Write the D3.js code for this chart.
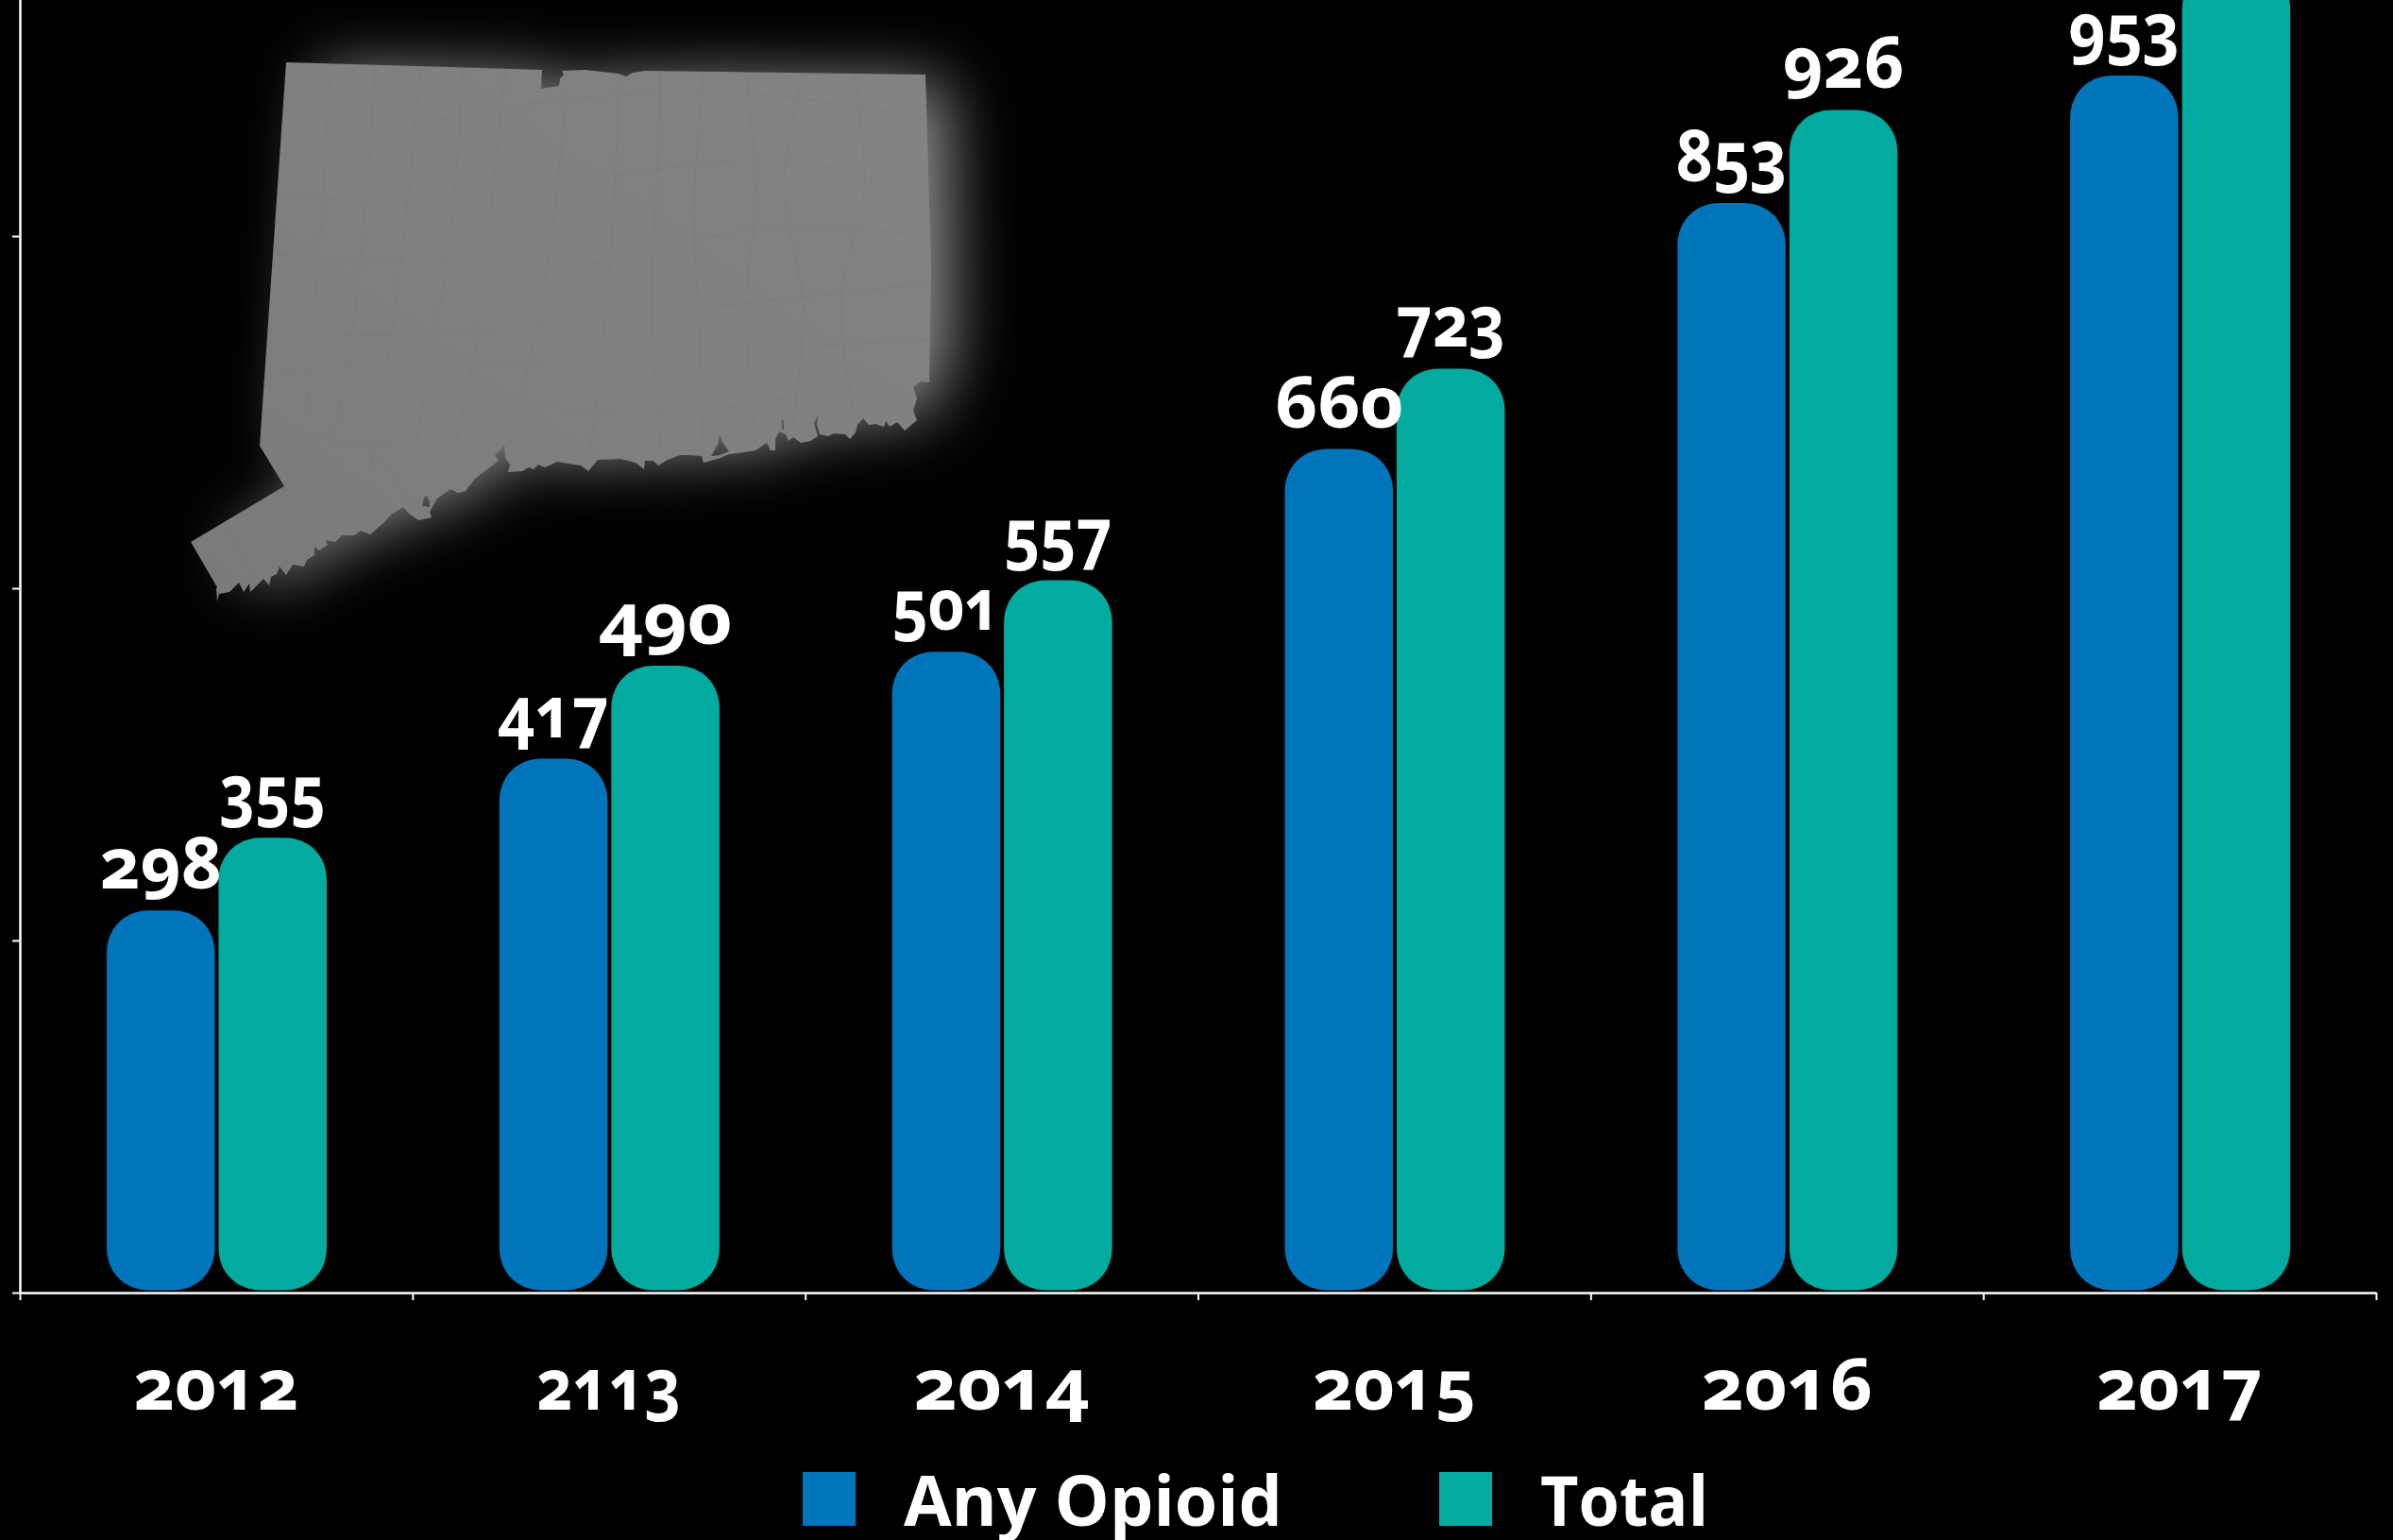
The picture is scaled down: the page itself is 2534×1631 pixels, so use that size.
<!DOCTYPE html>
<html><head><meta charset="utf-8">
<script src="https://cdn.jsdelivr.net/npm/d3@7"></script>
<style>
html,body{margin:0;padding:0;background:#000;overflow:hidden}
svg{display:block}
text{font-family:"Open Sans",sans-serif;font-weight:700;fill:#fff;font-feature-settings:"onum" 1;font-variant-numeric:oldstyle-nums}
</style></head><body>
<svg id="c" width="2534" height="1631"></svg>
<script>
const years = ["2012","2113","2014","2015","2016","2017"];
const seriesNames = ["Any Opioid","Total"];
const anyOpioid = [298,417,501,660,853,953];
const total = [355,490,557,723,926,1038];
const axisTicks = [0,275,550,825];
const seriesColors = ["#0075bb","#02aaa0"];
// label widths as set in the picture (the original type is stretched unevenly)
const yearWidths = [175,153,186,173,181,176];
const anyWidths = [129,118,115,136,118,118];
const totalWidths = [112,141,115,116,128,0];
const legendWidths = [401,178];

// Connecticut outline (decorative inset, pixels)
const mapOutline = [[303,66],[574,74],[573,94],[592,91],[593,83],[597,79],[595,75],[620,74],[655,78],[663,81],[670,77],[683,75],[980,79],[986,281],[984,405],[975,404],[967,410],[971,422],[967,435],[971,445],[958,456],[950,447],[942,452],[938,446],[936,452],[927,449],[920,450],[914,443],[908,450],[906,458],[900,465],[895,460],[883,459],[877,462],[868,460],[865,449],[867,438],[862,448],[866,462],[858,467],[848,469],[840,463],[835,467],[832,460],[825,457],[821,465],[821,477],[816,477],[812,469],[800,477],[788,479],[772,481],[763,485],[745,490],[743,483],[730,482],[720,482],[707,487],[697,493],[692,488],[683,488],[682,497],[673,490],[657,486],[633,487],[623,499],[615,493],[602,491],[590,489],[577,495],[570,492],[565,497],[560,495],[553,499],[538,500],[540,492],[535,485],[534,472],[524,482],[528,488],[512,500],[503,507],[493,520],[485,522],[477,518],[463,528],[455,542],[457,548],[443,551],[433,544],[427,537],[414,545],[407,553],[392,566],[382,562],[375,567],[362,567],[355,574],[344,572],[347,577],[338,583],[333,579],[333,588],[325,593],[322,600],[310,598],[303,609],[296,600],[293,608],[287,611],[285,620],[279,613],[272,620],[265,627],[264,618],[258,627],[253,617],[243,627],[232,629],[230,637],[229,623],[230,622],[202,574],[301,515],[275,472]];
const mapHoles = [[[447,536],[449,526],[452,525],[455,531],[455,537]],[[762,460],[765,468],[772,478],[762,482],[753,483],[757,476],[760,471]],[[827,444],[830,445],[830,455],[828,455]]];
const mapTowns = [[[350,68],[345,160],[336,290],[324,440]],[[398,70],[388,200],[376,330],[352,470]],[[445,72],[430,230],[415,350],[392,500]],[[490,72],[480,220],[462,350],[440,470]],[[535,73],[520,220],[505,360],[480,480]],[[600,95],[585,240],[565,360],[540,470]],[[655,78],[650,220],[640,340],[625,480]],[[700,76],[695,200],[690,320],[700,480]],[[745,76],[735,220],[740,340],[745,470]],[[790,77],[800,200],[790,330],[800,470]],[[850,78],[830,200],[850,320],[840,450]],[[905,78],[915,200],[890,320],[905,440]],[[303,135],[440,130],[600,105],[800,100],[980,125]],[[298,205],[450,215],[620,190],[840,170],[982,210]],[[292,270],[440,275],[620,280],[820,240],[984,250]],[[285,350],[430,355],[600,340],[800,320],[984,300]],[[282,400],[420,380],[610,385],[800,370],[984,360]],[[278,445],[400,470],[520,430],[700,440],[940,400]],[[240,560],[270,610]],[[300,515],[340,620]],[[340,480],[370,560]],[[400,480],[440,540]]];

const svg = d3.select("#c");
const defs = svg.append("defs");
const glow = defs.append("filter").attr("id","glow").attr("filterUnits","userSpaceOnUse")
  .attr("x",0).attr("y",0).attr("width",1300).attr("height",900)
  .attr("color-interpolation-filters","sRGB");
glow.append("feMorphology").attr("operator","erode").attr("radius",8);
glow.append("feOffset").attr("dx",30).attr("dy",0);
glow.append("feGaussianBlur").attr("stdDeviation",34);
const grad = defs.append("linearGradient").attr("id","mapFill").attr("x1",0).attr("y1",1).attr("x2",1).attr("y2",0);
grad.append("stop").attr("offset",0).attr("stop-color","#7a7a7a");
grad.append("stop").attr("offset",.5).attr("stop-color","#808080");
grad.append("stop").attr("offset",1).attr("stop-color","#838383");

const ring = d3.line().curve(d3.curveLinearClosed);
const mapPath = ring(mapOutline) + mapHoles.map(h=>ring(h)).join("");
defs.append("clipPath").attr("id","mapClip").append("path").attr("d",ring(mapOutline));

// Inset map
const map = svg.append("g");
map.append("path").attr("d",ring(mapOutline)).attr("fill","#929292").attr("filter","url(#glow)");
map.append("path").attr("d",mapPath).attr("fill","url(#mapFill)").attr("fill-rule","evenodd");
map.append("g").attr("clip-path","url(#mapClip)").selectAll("path").data(mapTowns).join("path")
  .attr("d",d3.line().curve(d3.curveCatmullRom)).attr("fill","none").attr("stroke","#6f6f6f").attr("stroke-width",1).attr("opacity",.22);

// Scales
const x = d3.scaleBand().domain(years).range([21,2516]).padding(0);
const xSeries = d3.scaleBand().domain(seriesNames).range([92,325]).paddingInner(.0336);
const y = d3.scaleLinear().domain([0,1000]).range([1366.5,16.5]);
const xTicks = d3.scaleLinear().domain([0,years.length]).range([21,2516]);
const yTicks = d3.scaleLinear().domain([0,1100]).range([1369,-123]);
const color = d3.scaleOrdinal(seriesNames,seriesColors);

// Axes
const gx = svg.append("g").attr("transform","translate(0,1369)")
  .call(d3.axisBottom(xTicks).tickValues(d3.range(years.length+1)).tickFormat("").tickSize(8).tickSizeOuter(0));
const gy = svg.append("g").attr("transform","translate(21,0)")
  .call(d3.axisLeft(yTicks).tickValues(axisTicks).tickFormat("").tickSize(8).tickSizeOuter(0));
gx.select(".domain").attr("stroke","#fff").attr("stroke-width",2.5);
gy.select(".domain").attr("stroke","#fff").attr("stroke-width",2.5);
gx.selectAll(".tick line").attr("stroke","#fff").attr("stroke-width",2);
gy.selectAll(".tick line").attr("stroke","#fff").attr("stroke-width",2);

// Bars: rounded corners slightly squarer than a circle arc
function softBar(x0,y0,w,h){
  const r = 45, k = r*.42, p = d3.path();
  p.moveTo(x0,y0+r);
  p.bezierCurveTo(x0,y0+k,x0+k,y0,x0+r,y0);
  p.lineTo(x0+w-r,y0);
  p.bezierCurveTo(x0+w-k,y0,x0+w,y0+k,x0+w,y0+r);
  p.lineTo(x0+w,y0+h-r);
  p.bezierCurveTo(x0+w,y0+h-k,x0+w-k,y0+h,x0+w-r,y0+h);
  p.lineTo(x0+r,y0+h);
  p.bezierCurveTo(x0+k,y0+h,x0,y0+h-k,x0,y0+h-r);
  p.closePath();
  return p.toString();
}
const seriesValues = [anyOpioid,total];
const seriesWidths = [anyWidths,totalWidths];
seriesNames.forEach((name,s)=>{
  const rows = years.map((yr,i)=>({yr,v:seriesValues[s][i]}));
  svg.append("g").selectAll("path").data(rows).join("path")
    .attr("d",d=>softBar(x(d.yr)+xSeries(name),y(d.v),xSeries.bandwidth(),y(0)-y(d.v)))
    .attr("fill",color(name));
});
seriesNames.forEach((name,s)=>{
  const rows = years.map((yr,i)=>({yr,v:seriesValues[s][i],w:seriesWidths[s][i]})).filter(d=>y(d.v)>60);
  svg.append("g").selectAll("text").data(rows).join("text")
    .attr("x",d=>x(d.yr)+xSeries(name)+xSeries.bandwidth()/2)
    .attr("y",d=>y(d.v)-23).attr("text-anchor","middle").attr("font-size",75)
    .attr("textLength",d=>d.w).attr("lengthAdjust","spacingAndGlyphs")
    .text(d=>d.v);
});
svg.append("g").selectAll("text").data(years).join("text")
  .attr("x",d=>x(d)+x.bandwidth()/2).attr("y",1493).attr("text-anchor","middle").attr("font-size",75)
  .attr("textLength",(d,i)=>yearWidths[i]).attr("lengthAdjust","spacingAndGlyphs").text(d=>d);

// Legend
const legendSwatch = d3.scaleOrdinal(seriesNames,[850,1524]);
const legendText = d3.scaleOrdinal(seriesNames,[957,1631]);
const lg = svg.append("g");
lg.selectAll("rect").data(seriesNames).join("rect")
  .attr("x",d=>legendSwatch(d)).attr("y",1559).attr("width",56).attr("height",57).attr("fill",d=>color(d));
lg.selectAll("text").data(seriesNames).join("text")
  .attr("x",d=>legendText(d)).attr("y",1616).attr("font-size",73)
  .attr("textLength",(d,i)=>legendWidths[i]).attr("lengthAdjust","spacingAndGlyphs").text(d=>d);
</script>
</body></html>
